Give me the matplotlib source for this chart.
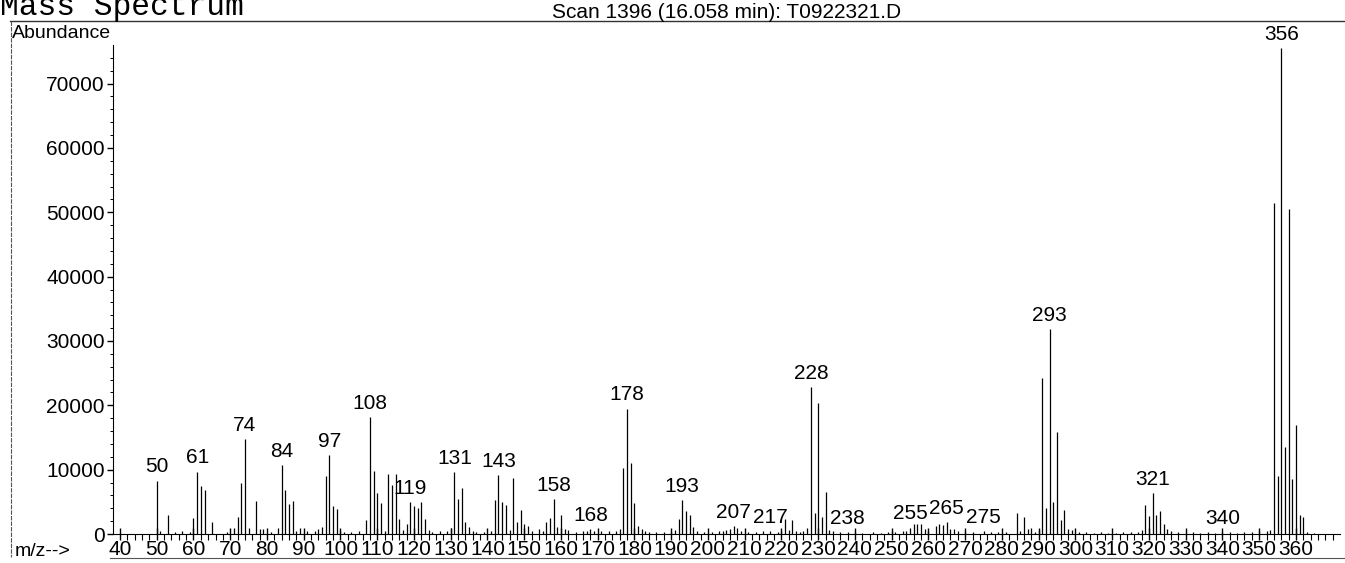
import numpy as np
import matplotlib.pyplot as plt
from matplotlib.lines import Line2D

plt.rcParams['font.family'] = ['Liberation Sans', 'DejaVu Sans']

# m/z values and abundances
mz = [50, 51, 53, 55, 57, 59, 60, 61, 62, 63, 65, 69, 71, 72, 73, 74, 75, 77, 78, 79,
      81, 83, 84, 85, 86, 87, 88, 89, 91, 93, 94, 95, 96, 97, 98, 99, 100, 101, 103, 105,
      107, 108, 109, 110, 111, 112, 113, 114, 115, 116, 117, 118, 119, 120, 121, 122, 123, 124, 125, 127,
      129, 130, 131, 132, 133, 134, 135, 136, 137, 139, 141, 142, 143, 144, 145, 146, 147, 148, 149, 150,
      151, 152, 154, 155, 156, 157, 158, 159, 160, 161, 162, 164, 166, 167, 168, 169, 171, 173, 175, 176,
      177, 178, 179, 180, 181, 182, 183, 184, 186, 188, 190, 191, 192, 193, 194, 195, 196, 197, 199, 201,
      203, 204, 205, 206, 207, 208, 209, 211, 213, 215, 217, 219, 220, 221, 222, 223, 224, 225, 226, 227,
      228, 229, 230, 231, 232, 233, 234, 236, 238, 240, 242, 245, 247, 249, 250, 251, 253, 254, 255, 256,
      257, 258, 259, 260, 262, 263, 264, 265, 266, 267, 268, 270, 272, 275, 277, 279, 281, 284, 285, 286,
      287, 288, 289, 290, 291, 292, 293, 294, 295, 296, 297, 298, 299, 301, 303, 305, 307, 309, 311, 313,
      315, 317, 318, 319, 320, 321, 322, 323, 324, 325, 326, 328, 330, 332, 334, 336, 338, 340, 342, 344,
      346, 348, 350, 352, 353, 354, 355, 356, 357, 358, 359, 360, 361, 362, 363, 365]
abundance = [8300, 400, 2900, 300, 500, 300, 2500, 9700, 7500, 6800, 1900, 300, 1000, 2600, 8000, 14800, 1000, 5200, 700, 800,
             300, 900, 10700, 6800, 4700, 5200, 400, 900, 400, 400, 800, 1100, 9000, 12300, 4300, 3900, 400, 300, 300, 400,
             2200, 18200, 9800, 6400, 4800, 500, 9400, 7600, 9400, 2400, 600, 1600, 5000, 4300, 4100, 4900, 2300, 600, 300, 500,
             400, 900, 9600, 5500, 7100, 1900, 1100, 400, 300, 300, 500, 5300, 9200, 5000, 4500, 600, 8700, 1900, 3800, 1600,
             1200, 400, 800, 500, 1800, 2500, 5400, 1100, 3000, 800, 600, 300, 500, 500, 700, 400, 500, 400, 400, 700,
             10200, 19500, 11000, 4800, 1200, 700, 400, 300, 300, 300, 300, 600, 2400, 5300, 3500, 3000, 1100, 500, 300, 300,
             400, 400, 600, 700, 1200, 900, 500, 300, 300, 400, 400, 300, 500, 2400, 600, 2200, 500, 300, 400, 900,
             22800, 3300, 20300, 2700, 6600, 600, 400, 300, 300, 300, 200, 300, 200, 300, 500, 300, 400, 500, 1000, 1500,
             1600, 1500, 700, 400, 1300, 1500, 1400, 1800, 800, 700, 400, 300, 300, 400, 300, 300, 300, 3300, 400, 2700,
             800, 900, 300, 600, 24200, 4000, 31800, 5000, 15800, 2200, 3800, 700, 600, 300, 300, 200, 300, 200, 200, 300,
             300, 300, 600, 4500, 2800, 6300, 3000, 3500, 1500, 800, 400, 300, 200, 300, 200, 300, 200, 300, 300, 200,
             300, 300, 400, 500, 600, 51500, 9000, 75500, 13500, 50500, 8500, 17000, 3000, 2700, 300, 200]

labelled = [50, 61, 74, 84, 97, 108, 119, 131, 143, 158, 168, 178, 193, 207, 217,
            228, 238, 255, 265, 275, 293, 321, 340, 356]

x_ticks = list(range(40, 361, 10))
y_ticks = list(range(0, 70001, 10000))

fig = plt.figure(figsize=(13.45, 5.63), dpi=100)
ax = fig.add_axes([113 / 1345, 29 / 563, 1227 / 1345, 489 / 563])

ax.vlines(mz, 0, abundance, color='black', lw=0.9)

peak = dict(zip(mz, abundance))
for m in labelled:
    ax.annotate(str(m), (m, peak[m]), xytext=(0, 3), textcoords='offset points',
                ha='center', va='bottom', fontsize=15, annotation_clip=False)

ax.set_xlim(38.1, 372)
ax.set_ylim(0, 76000)
ax.set_xticks(x_ticks)
ax.set_xticks(np.arange(40, 372, 2), minor=True)
ax.set_yticks(y_ticks)
ax.set_yticks(np.arange(0, 76000, 2000), minor=True)
ax.tick_params(axis='x', which='major', direction='inout', length=9, width=1, labelsize=15, pad=0)
ax.tick_params(axis='x', which='minor', direction='out', length=4, width=0.8)
ax.tick_params(axis='y', which='major', direction='out', length=4, width=1, labelsize=15, pad=2)
ax.tick_params(axis='y', which='minor', direction='out', length=2, width=0.7)
for s in ['top', 'right']:
    ax.spines[s].set_visible(False)

# page furniture from the printed report
fig.text(0.0, 1 - 15 / 563, 'Mass Spectrum', family='Liberation Mono', fontsize=22.5, va='baseline')
fig.text(727 / 1345, 1 - 13 / 563, 'Scan 1396 (16.058 min): T0922321.D', fontsize=15, ha='center', va='center')
fig.text(12 / 1345, 1 - 33 / 563, 'Abundance', fontsize=14, va='center')
fig.text(15 / 1345, 1 - 551 / 563, 'm/z-->', fontsize=14, va='center')
fig.add_artist(Line2D([10 / 1345, 1], [1 - 21 / 563, 1 - 21 / 563], color='#333333', lw=1))
fig.add_artist(Line2D([11 / 1345, 11 / 1345], [1 - 21 / 563, 1 - 557 / 563], color='#555555', lw=0.8, ls=(0, (4, 1))))
fig.add_artist(Line2D([110 / 1345, 1], [1 - 558 / 563, 1 - 558 / 563], color='#555555', lw=0.8))

fig.savefig('out.png', dpi=100)
